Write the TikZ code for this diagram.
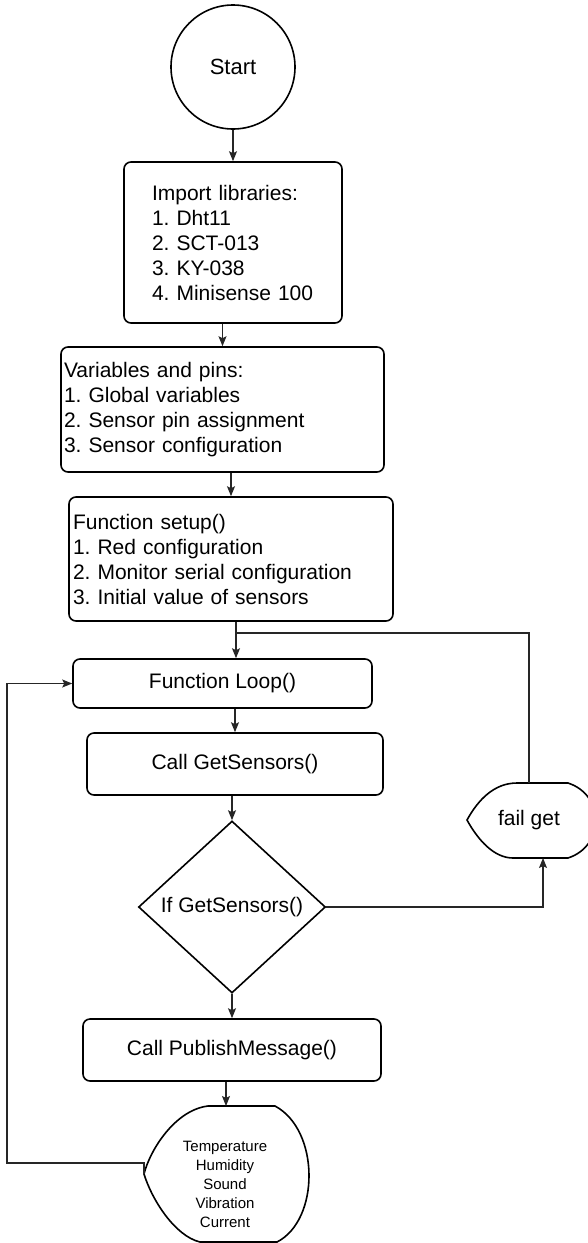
\documentclass[tikz,border=0pt]{standalone}
\usepackage{fontspec}
\setmainfont{Liberation Sans}
\usetikzlibrary{arrows.meta,shapes.geometric,calc}
\frenchspacing
\begin{document}
\begin{tikzpicture}[x=1pt,y=-1pt,
  shapeline/.style={draw=black, line width=1.6pt},
  box/.style={shapeline, rounded corners=7pt, font=\fontsize{21}{25}\selectfont\frenchspacing},
  conn/.style={line width=1.1pt, draw=black!85},
  arr/.style={conn, -{Stealth[length=10pt,width=8pt,inset=2pt]}},
  big/.style={font=\fontsize{21}{25}\selectfont\frenchspacing},
  small/.style={font=\fontsize{15}{19}\selectfont}]
\useasboundingbox (0,0) rectangle (587,1243);

% nodes
\node[shapeline, circle, minimum size=124pt, inner sep=0pt, font=\fontsize{22}{26}\selectfont] (start) at (233,67) {Start};
\node[box, minimum width=218pt, minimum height=161pt, text width=162pt, align=left, inner xsep=0pt] (lib) at (233,242.5)
  {Import libraries:\\1. Dht11\\2. SCT-013\\3. KY-038\\4. Minisense 100};
\node[box, minimum width=323pt, minimum height=125pt, text width=317pt, align=left, inner xsep=3pt] (vars) at (222.5,409.5)
  {Variables and pins:\\1. Global variables\\2. Sensor pin assignment\\3. Sensor configuration};
\node[box, minimum width=324pt, minimum height=124pt, text width=316pt, align=left, inner xsep=4pt] (setup) at (231,559)
  {Function setup()\\1. Red configuration\\2. Monitor serial configuration\\3. Initial value of sensors};
\node[box, minimum width=299pt, minimum height=49pt] (loop) at (222.5,683.5) {Function Loop()};
\node[box, minimum width=296pt, minimum height=62pt] (gs) at (235,764) {Call GetSensors()};
\node[shapeline, diamond, minimum width=187pt, minimum height=172pt, inner sep=0pt, big] (dia) at (232,907) {If GetSensors()};
\node[box, minimum width=298pt, minimum height=62pt] (pub) at (232,1050) {Call PublishMessage()};
\node[big] (fail) at (529,820.5) {fail get};
\node[small, align=center] (out) at (225,1184.5) {Temperature\\Humidity\\Sound\\Vibration\\Current};

% display shapes
\draw[shapeline] (467,820) .. controls (478,800) and (494,783) .. (517,783) -- (568,783)
  .. controls (605,795) and (605,846) .. (568,858) -- (513,858)
  .. controls (494,858) and (478,840) .. (467,820) -- cycle;
\draw[shapeline] (144,1174) .. controls (150,1150) and (175,1110) .. (208,1106) -- (275,1106)
  .. controls (320,1130) and (320,1220) .. (277,1242) -- (200,1242)
  .. controls (175,1236) and (152,1200) .. (144,1174) -- cycle;

% connector ends
\coordinate (failTop) at (529,783);
\coordinate (failBot) at (543,858);
\coordinate (outTop) at (226,1106);
\coordinate (outWest) at (144,1174);
\coordinate (j1) at (236,633);
\coordinate (lft) at (7,1163);

% connectors
\draw[arr] (lib.north |- start.south) -- (lib.north);
\draw[arr] (vars.north |- lib.south) -- (vars.north);
\draw[arr] (setup.north |- vars.south) -- (setup.north);
\draw[arr] (setup.south -| j1) -- (loop.north -| j1);
\draw[conn] (failTop) |- (j1);
\draw[arr] (gs.north |- loop.south) -- (gs.north);
\draw[arr] (dia.north |- gs.south) -- (dia.north);
\draw[arr] (dia.east) -| (failBot);
\draw[arr] (dia.south) -- (pub.north |- dia.south) -- (pub.north);
\draw[arr] (outTop |- pub.south) -- (outTop);
\draw[arr] (outWest) -- (outWest |- lft) -- (lft) |- (loop.west);
\end{tikzpicture}
\end{document}
